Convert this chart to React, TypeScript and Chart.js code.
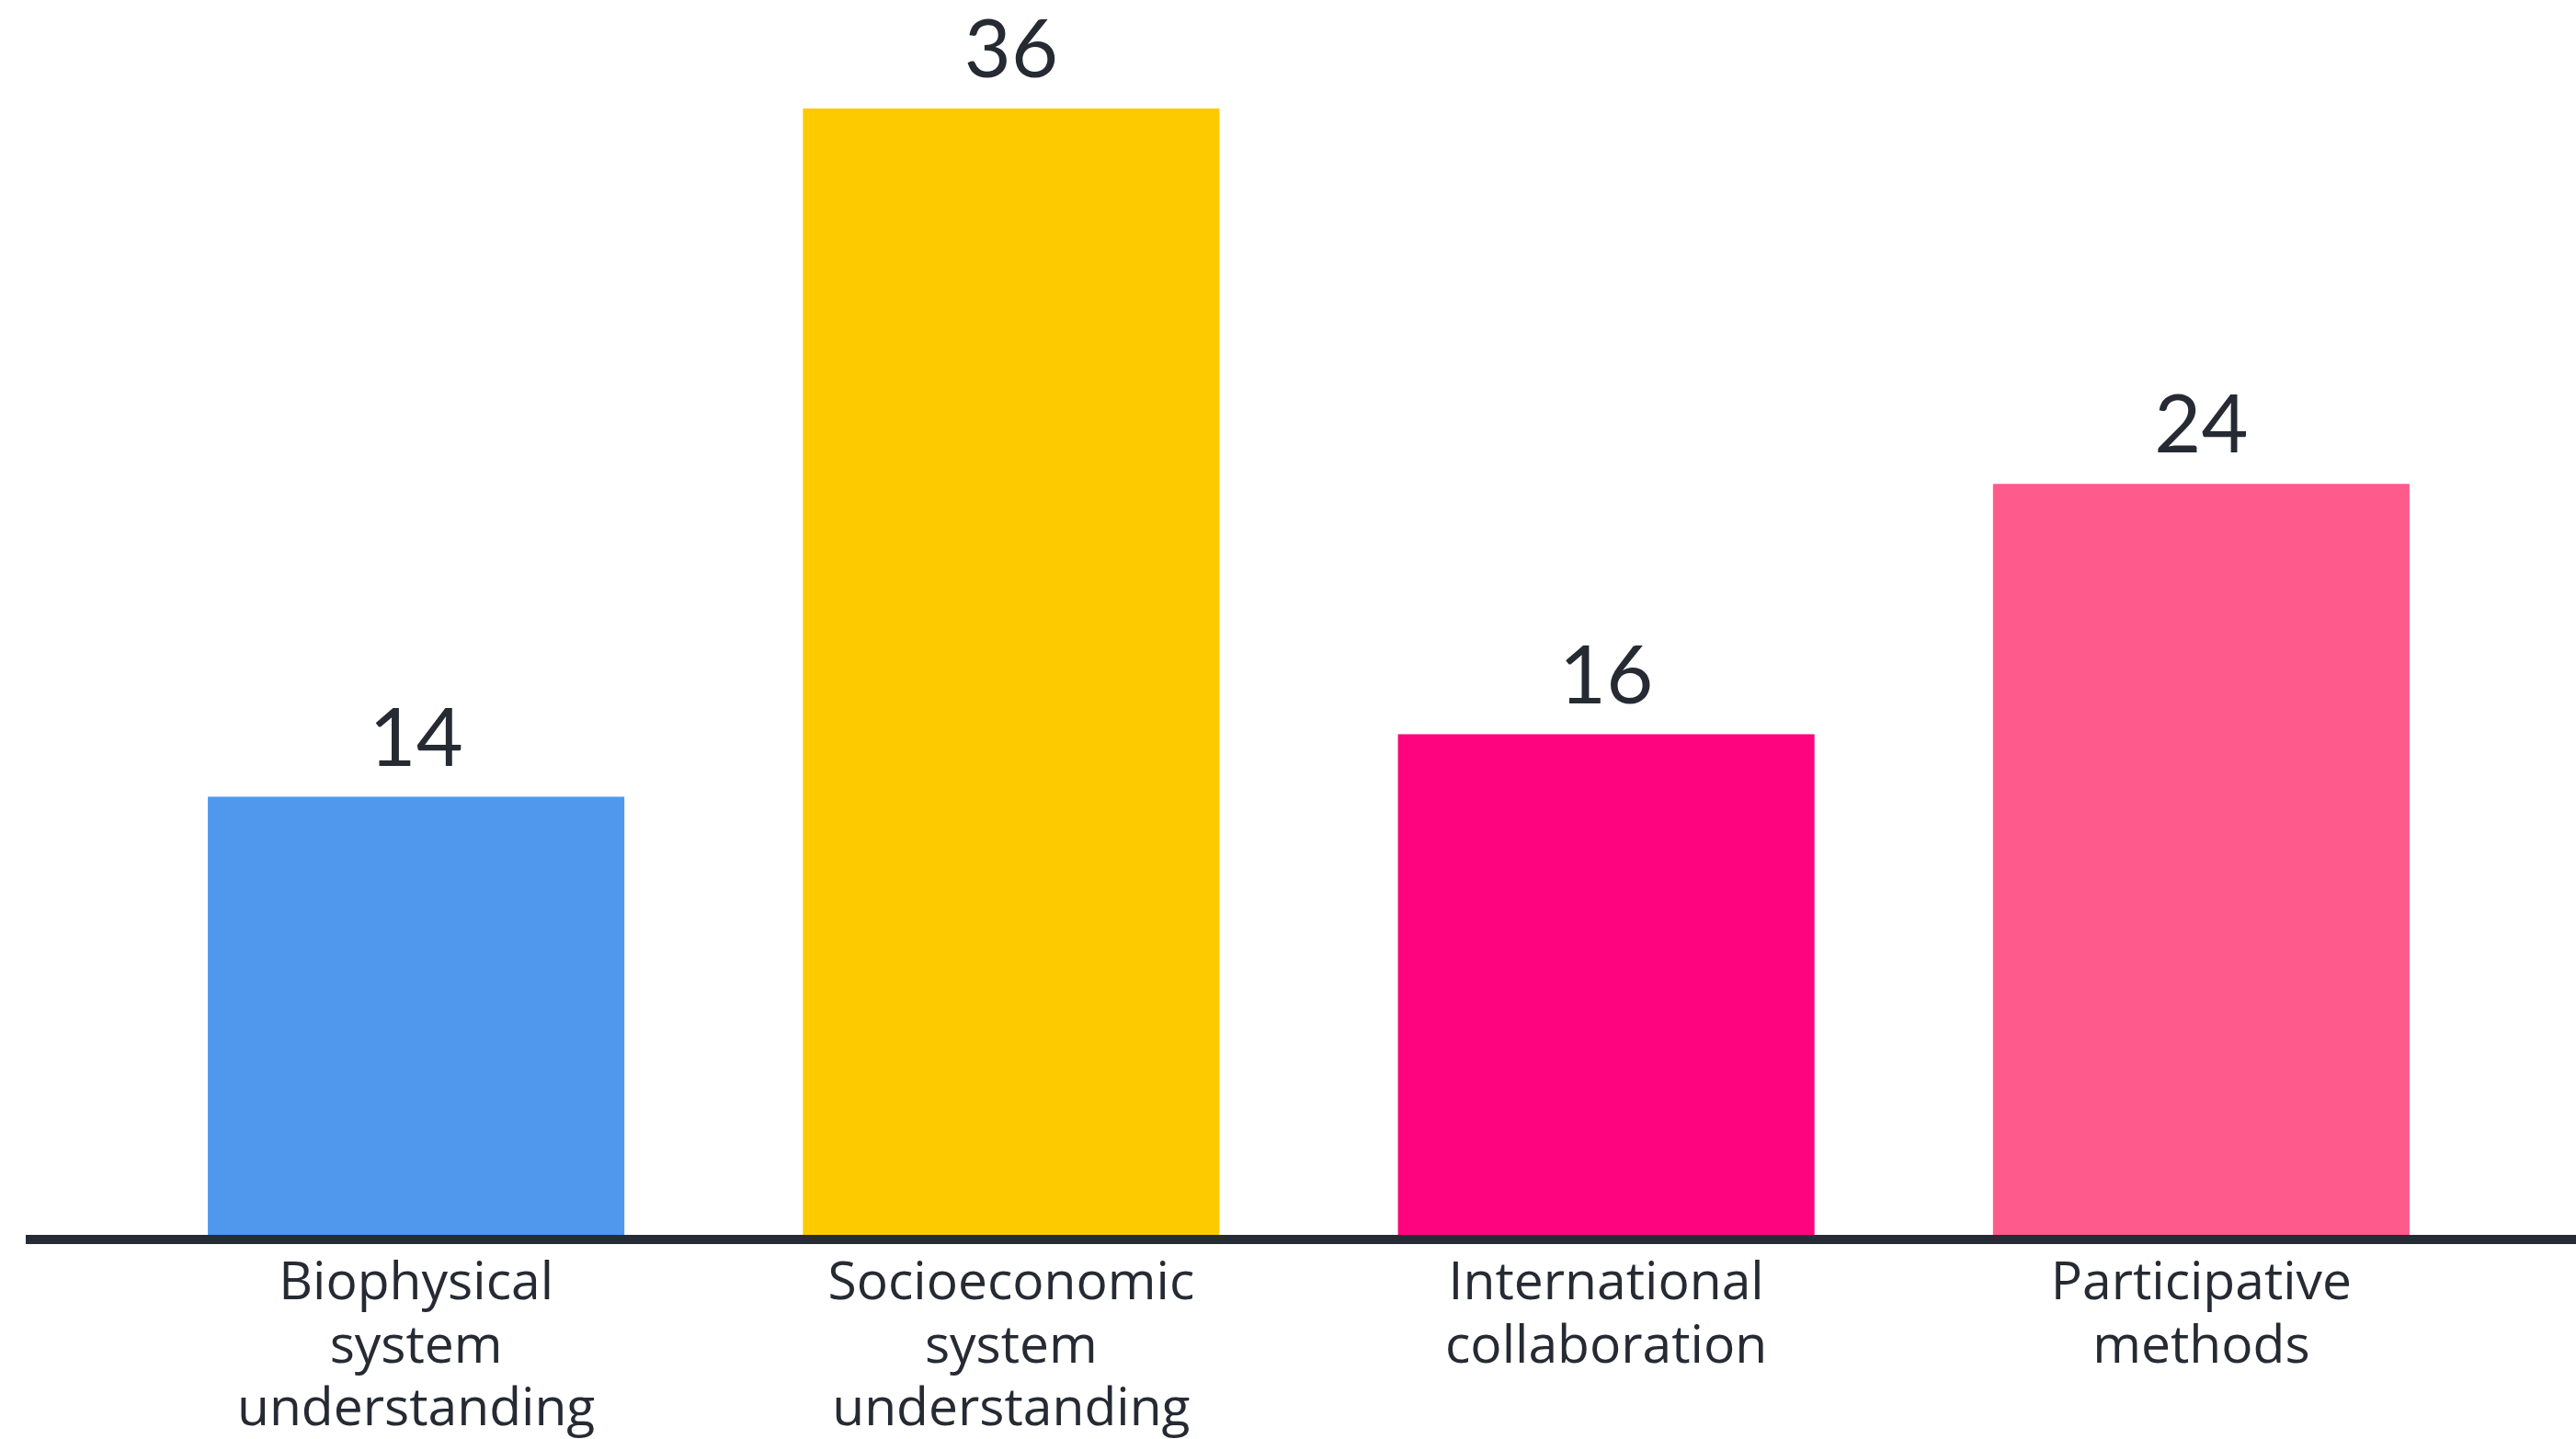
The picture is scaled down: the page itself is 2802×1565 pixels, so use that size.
import React, { useEffect, useRef } from "react";
import { Chart, registerables } from "chart.js";

Chart.register(...registerables);

const categories: string[][] = [
  ["Biophysical", "system", "understanding"],
  ["Socioeconomic", "system", "understanding"],
  ["International", "collaboration"],
  ["Participative", "methods"],
];
const values: number[] = [14, 36, 16, 24];
const barColors: string[] = ["#4F98EE", "#FDCA00", "#FF047F", "#FF5A8C"];

const TEXT_COLOR = "#262a33";
const FONT = "'Open Sans', Lato, sans-serif";
const NUM_FONT = "Lato, 'Open Sans', sans-serif";

const valueLabelPlugin = {
  id: "valueLabels",
  afterDatasetsDraw(chart: any) {
    const ctx = chart.ctx;
    const meta = chart.getDatasetMeta(0);
    ctx.save();
    ctx.fillStyle = TEXT_COLOR;
    ctx.font = `400 88px ${NUM_FONT}`;
    ctx.textAlign = "center";
    ctx.textBaseline = "alphabetic";
    meta.data.forEach((bar: any, i: number) => {
      ctx.fillText(String(values[i]), bar.x, bar.y - 34);
    });
    ctx.restore();
  },
};

const axisLinePlugin = {
  id: "axisLine",
  afterDraw(chart: any) {
    const ctx = chart.ctx;
    const y = chart.chartArea.bottom;
    ctx.save();
    ctx.fillStyle = "#262b36";
    ctx.fillRect(28, y, chart.width - 28, 10);
    ctx.restore();
  },
};

export default function App() {
  const canvasRef = useRef<HTMLCanvasElement | null>(null);

  useEffect(() => {
    document.body.style.margin = "0";
    const canvas = canvasRef.current;
    if (!canvas) return;
    const chart = new Chart(canvas, {
      type: "bar",
      data: {
        labels: categories,
        datasets: [
          {
            data: values,
            backgroundColor: barColors,
            borderWidth: 0,
            categoryPercentage: 1,
            barPercentage: 0.7,
          },
        ],
      },
      options: {
        responsive: false,
        animation: false,
        layout: { padding: { left: 129, right: 84, top: 118, bottom: 0 } },
        plugins: {
          legend: { display: false },
          tooltip: { enabled: false },
          title: { display: false },
        },
        scales: {
          y: {
            display: false,
            min: 0,
            max: 36,
          },
          x: {
            grid: { display: false, drawTicks: false },
            border: { display: false },
            ticks: {
              autoSkip: false,
              maxRotation: 0,
              minRotation: 0,
              padding: 20,
              color: TEXT_COLOR,
              font: { family: FONT, size: 57, weight: "400", lineHeight: 1.2 },
            },
            afterFit(scale: any) {
              scale.height = 222;
            },
          },
        },
      },
      plugins: [valueLabelPlugin, axisLinePlugin],
    });
    return () => chart.destroy();
  }, []);

  return (
    <div style={{ width: 2802, height: 1565, background: "#ffffff" }}>
      <canvas ref={canvasRef} width={2802} height={1565} style={{ display: "block" }} />
    </div>
  );
}
